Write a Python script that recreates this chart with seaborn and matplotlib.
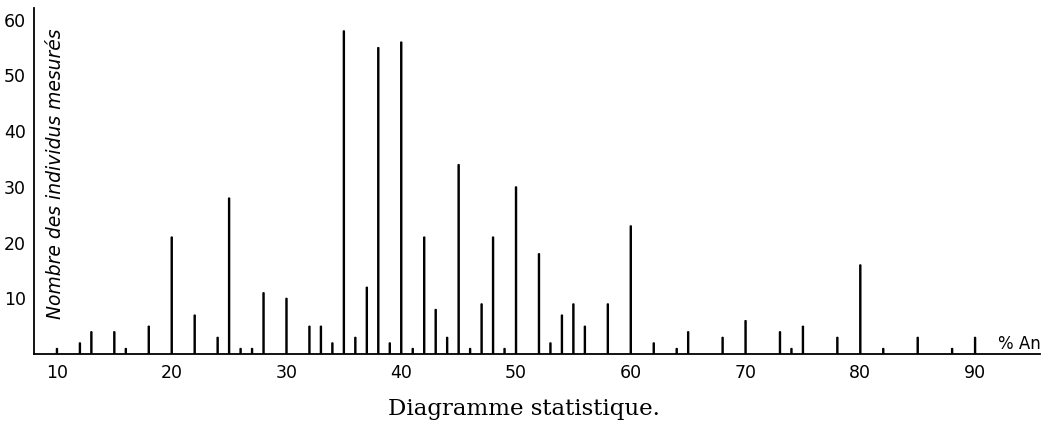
import matplotlib
matplotlib.use("Agg")
import matplotlib.pyplot as plt
import seaborn as sns

sns.set_theme(style="white")
plt.rcParams["font.family"] = ["DejaVu Sans"]
plt.rcParams["text.color"] = "black"

# % anorthite and number of measured individuals
pct_an = [10, 12, 13, 15, 16, 18, 20, 22, 24, 25, 26, 27, 28, 30, 32, 33, 34,
          35, 36, 37, 38, 39, 40, 41, 42, 43, 44, 45, 46, 47, 48, 49, 50, 52,
          53, 54, 55, 56, 58, 60, 62, 64, 65, 68, 70, 73, 74, 75, 78, 80, 82,
          85, 88, 90]
counts = [1, 2, 4, 4, 1, 5, 21, 7, 3, 28, 1, 1, 11, 10, 5, 5, 2,
          58, 3, 12, 55, 2, 56, 1, 21, 8, 3, 34, 1, 9, 21, 1, 30, 18,
          2, 7, 9, 5, 9, 23, 2, 1, 4, 3, 6, 4, 1, 5, 3, 16, 1,
          3, 1, 3]
x_ticks = [10, 20, 30, 40, 50, 60, 70, 80, 90]
y_ticks = [10, 20, 30, 40, 50, 60]

fig = plt.figure(figsize=(10.43, 4.23), dpi=100)
ax = fig.add_axes([0.0326, 0.163, 0.965, 0.818])

sns.barplot(x=pct_an, y=counts, native_scale=True, width=0.1,
            color="black", edgecolor="black", linewidth=0.9, saturation=1, ax=ax)
for p in ax.patches:
    p.set_snap(False)

ax.set_xlim(8.0, 95.7)
ax.set_ylim(0, 62.1)
ax.set_xticks(x_ticks)
ax.set_yticks(y_ticks)
ax.set_xlabel(""); ax.set_ylabel("")
for s in ["top", "right"]:
    ax.spines[s].set_visible(False)
for s in ["left", "bottom"]:
    ax.spines[s].set_color("black")
    ax.spines[s].set_linewidth(1.3)
ax.tick_params(axis="both", labelsize=12.5, colors="black", length=4,
               width=1, direction="out", pad=2)
ax.tick_params(axis="x", direction="inout", length=6, pad=4)

ax.text(0.012, 0.52, "Nombre des individus mesurés", transform=ax.transAxes,
        rotation=90, style="italic", fontsize=13.5, color="black",
        ha="left", va="center")
ax.text(92.0, 0.2, "% An", fontsize=12, color="black", ha="left", va="bottom")

fig.text(0.502, 0.02, "Diagramme statistique.", family="DejaVu Serif",
         fontsize=16.5, color="black", ha="center", va="baseline")

fig.savefig("out.png", dpi=100)
